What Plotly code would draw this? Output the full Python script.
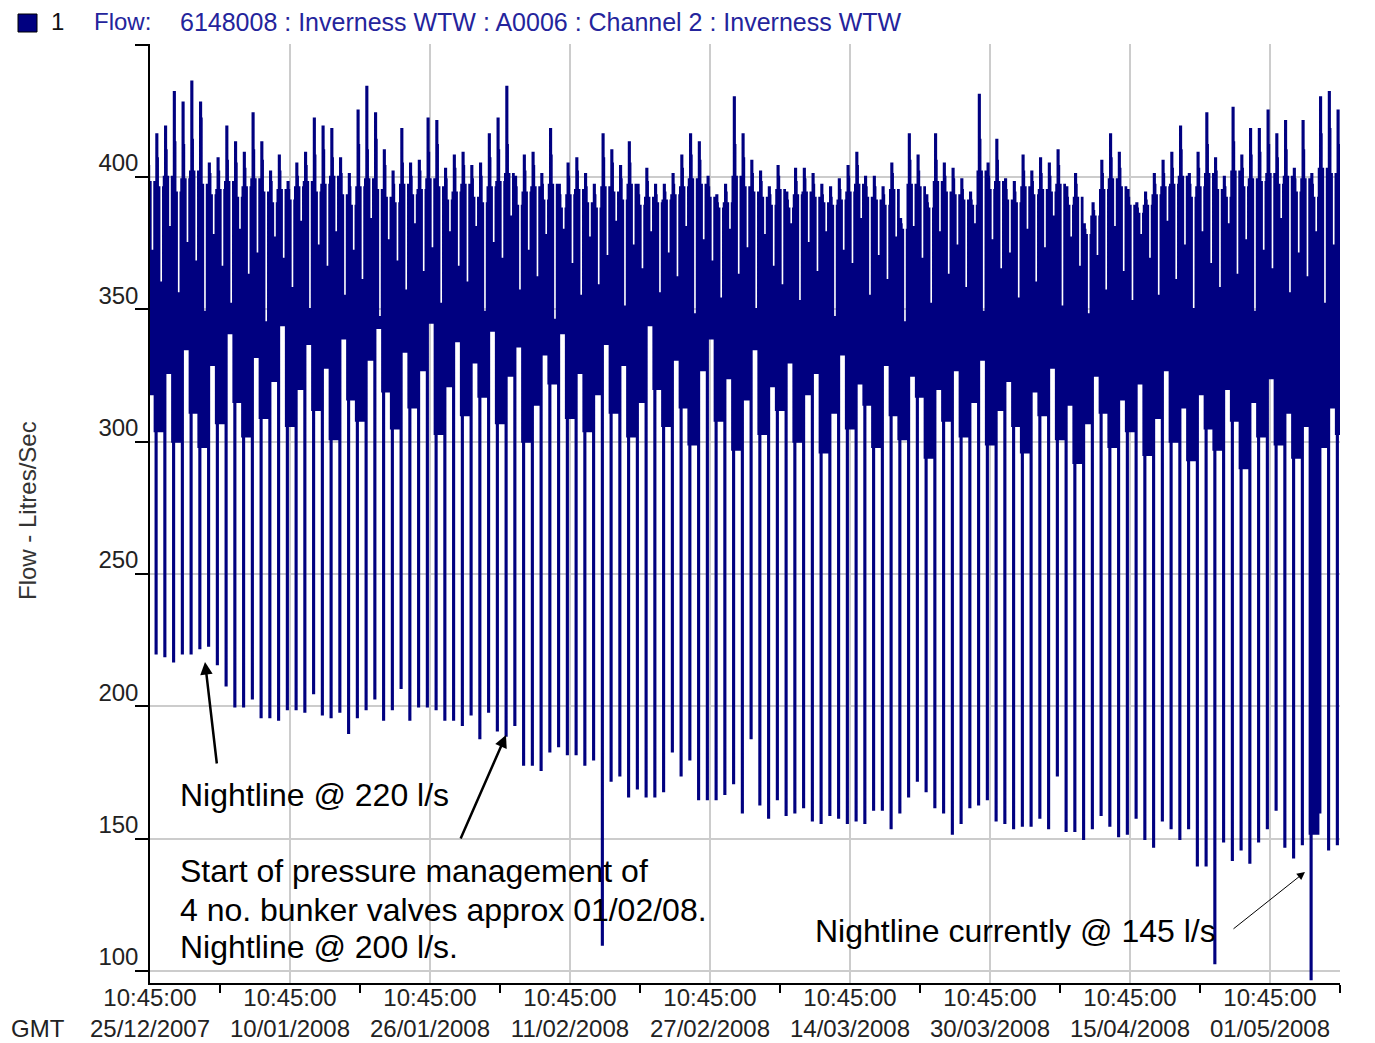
import datetime as dt
import plotly.graph_objects as go

# ---- daily flow figures (litres/sec), one entry per calendar day from 25/12/2007 ----
night_min = [
    222,
    220, 219, 217, 220, 220, 222, 223, 216, 208, 200,
    200, 203, 196, 196, 195, 199, 199, 198, 205, 197,
    196, 198, 190, 196, 199, 203, 195, 199, 207, 195,
    200, 200, 199, 195, 195, 193, 197, 188, 198, 191,
    189, 193, 178, 178, 176, 183, 185, 182, 182, 178,
    180, 110, 172, 174, 166, 169, 166, 166, 168, 183,
    174, 180, 165, 165, 165, 167, 171, 160,
    188,
    163, 158, 165, 159, 160, 162, 157, 156, 159, 158,
    156, 157, 156, 161, 161, 154, 160, 166, 172, 168,
    162, 160, 152, 156, 162, 163, 165, 157, 156, 154,
    155, 155, 158, 154, 174, 153, 153, 150, 154, 159,
    155, 151, 152, 158, 150, 147, 157, 154, 150, 154,
    140, 140, 103, 149, 142, 146, 141, 149, 154, 161,
    147, 143, 148,
    97, 160, 146, 148,
]

daily_peak = [
    409, 416, 419, 432, 428, 436, 428, 405, 407, 419,
    413, 409, 424, 413, 402, 408, 398, 405, 409, 422,
    419, 418, 407, 401, 425, 434, 424, 410, 402, 418,
    405, 406, 422, 421, 403, 408, 409, 404, 405, 416,
    422, 434, 400, 408, 409, 401, 418, 397, 405, 407,
    401, 397, 416, 410, 404, 413, 397, 403, 397, 397,
    401, 408, 416, 413, 400, 393, 397, 430, 416, 406,
    402, 396, 404, 394, 403, 403, 401, 397, 396, 399,
    404, 409, 400, 400, 396, 405, 384, 416, 408, 393,
    416, 405, 403, 399, 394, 431, 405, 414, 399, 398,
    408, 402, 407, 405, 410, 396, 401, 382, 390, 406,
    416, 409, 395, 390, 394, 401, 406, 409, 419, 401,
    409, 424, 407, 400, 426, 408, 418, 418, 425, 416,
    421, 403, 421, 401, 430, 432, 425,
]

# secondary step just after the morning peak
after_peak = [
    404, 407, 410, 413, 412, 414, 422, 401, 402, 406,
    405, 403, 410, 406, 398, 402, 395, 400, 404, 408,
    410, 407, 401, 396, 412, 410, 414, 404, 397, 405,
    400, 402, 409, 412, 399, 403, 404, 399, 400, 407,
    410, 412, 396, 402, 404, 397, 408, 393, 400, 402,
    396, 393, 407, 405, 399, 405, 393, 398, 393, 394,
    397, 403, 408, 406, 396, 390, 394, 412, 407, 401,
    398, 393, 400, 391, 398, 399, 397, 393, 392, 395,
    400, 404, 396, 396, 393, 401, 382, 406, 402, 390,
    406, 400, 399, 395, 391, 414, 400, 406, 395, 394,
    402, 398, 401, 400, 404, 392, 397, 380, 387, 401,
    407, 403, 392, 388, 391, 397, 401, 403, 410, 397,
    403, 412, 402, 396, 413, 403, 408, 409, 412, 407,
    410, 399, 410, 397, 416, 418, 412,
]

# upper level of the daytime demand band
day_high = [
    398, 396, 400, 394, 399, 402, 397, 393, 395, 398,
    392, 396, 399, 394, 390, 395, 391, 396, 398, 394,
    397, 400, 393, 389, 396, 399, 395, 392, 390, 397,
    393, 395, 399, 396, 391, 394, 397, 392, 390, 396,
    398, 401, 389, 394, 396, 391, 397, 388, 393, 395,
    390, 388, 396, 394, 391, 397, 389, 392, 390, 391,
    393, 396, 399, 397, 392, 388, 390, 400, 396, 394,
    392, 389, 395, 388, 393, 394, 392, 390, 389, 391,
    394, 397, 392, 391, 389, 395, 380, 397, 396, 388,
    398, 394, 393, 391, 389, 402, 395, 398, 391, 390,
    396, 393, 395, 394, 397, 389, 392, 378, 385, 395,
    399, 396, 389, 386, 389, 393, 396, 397, 400, 392,
    396, 401, 395, 392, 402, 396, 399, 398, 401, 397,
    400, 394, 399, 392, 403, 401, 399,
]

# evening ceiling (afternoon/evening lull)
evening_high = [
    372, 360, 381, 356, 375, 368, 349, 378, 366, 352,
    380, 363, 371, 345, 377, 369, 358, 383, 350, 374,
    366, 379, 355, 372, 361, 384, 347, 376, 368, 357,
    382, 364, 373, 352, 379, 366, 360, 381, 349, 375,
    369, 385, 357, 372, 362, 378, 346, 380, 367, 355,
    377, 359, 370, 383, 351, 374, 365, 379, 356, 371,
    362, 381, 348, 376, 368, 354, 380, 363, 373, 350,
    378, 366, 359, 382, 353, 375, 364, 379, 347, 372,
    367, 384, 355, 370, 361, 377, 345, 381, 369, 352,
    379, 363, 374, 358, 382, 349, 376, 365, 371, 354,
    380, 360, 373, 385, 351, 377, 366, 348, 370, 357,
    381, 364, 353, 378, 369, 355, 383, 361, 374, 350,
    379, 367, 358, 382, 363, 376, 349, 372, 365, 384,
    356, 371, 362, 379, 352, 374, 368,
]

# lower level of the daytime demand band
day_low = [
    318, 304, 326, 300, 335, 311, 298, 329, 307, 341,
    315, 302, 332, 309, 323, 344, 306, 320, 337, 312,
    328, 301, 339, 316, 308, 331, 343, 319, 305, 334,
    313, 327, 345, 303, 321, 338, 310, 330, 317, 342,
    307, 325, 336, 300, 314, 333, 322, 341, 309, 326,
    304, 318, 337, 311, 329, 302, 315, 344, 320, 306,
    331, 313, 299, 327, 339, 308, 324, 297, 316, 335,
    303, 321, 312, 330, 300, 318, 326, 296, 311, 333,
    305, 322, 314, 298, 329, 310, 301, 325, 317, 294,
    320, 308, 327, 302, 315, 331, 299, 312, 323, 306,
    296, 319, 310, 328, 301, 314, 292, 307, 325, 311,
    298, 316, 304, 322, 295, 309, 327, 300, 313, 293,
    318, 305, 297, 320, 308, 290, 315, 302, 324, 299,
    311, 294, 306, 152, 298, 313, 303,
]

y_tick_values = [100, 150, 200, 250, 300, 350, 400, 450]
y_tick_text = ["100", "150", "200", "250", "300", "350", "400", ""]

# ---- build the logged series: each day follows the same sequence of readings ----
series = {
    "low": day_low, "high": day_high, "min": night_min,
    "peak": daily_peak, "step": after_peak, "eve": evening_high,
}
day_sequence = [
    (0.0, "low"), (1.0, "high"), (2.5, "min"), (4.5, "peak"), (6.5, "step"),
    (8.0, "low"), (9.0, "high"), (10.0, "low"), (11.0, "high"), (12.0, "low"),
    (13.5, "eve"), (15.0, "low"), (16.5, "eve"), (18.0, "low"), (19.5, "eve"),
    (21.0, "low"), (23.0, "high"),
]

first_day = dt.datetime(2007, 12, 25)
times, flows = [], []
for d in range(len(night_min)):
    for hour, key in day_sequence:
        times.append(first_day + dt.timedelta(days=d, hours=hour))
        flows.append(series[key][d])

x_start = dt.datetime(2007, 12, 25, 10, 45)
x_end = x_start + dt.timedelta(days=136)
label_dates = [x_start + dt.timedelta(days=16 * k) for k in range(9)]
label_text = [f"10:45:00<br>{t:%d/%m/%Y}" for t in label_dates]
mid_ticks = [x_start + dt.timedelta(days=8 + 16 * k) for k in range(9)]

FONT = "Liberation Sans, Arial, sans-serif"
NAVY = "#000080"

fig = go.Figure()
fig.add_trace(go.Scatter(
    x=times, y=flows, mode="lines", line=dict(color=NAVY, width=2.4, shape="hv"),
    hoverinfo="skip", showlegend=False,
))

# plot box in page pixels, for placing the text furniture
L, R, T, B = 150, 1340, 44, 983


def px(xp):
    return (xp - L) / (R - L)


def py(yp):
    return (B - yp) / (B - T)


annotations = []


def text(xp, yp, s, size=32, color="black", anchor="left", angle=0):
    annotations.append(dict(
        x=px(xp), y=py(yp), xref="paper", yref="paper", text=s, showarrow=False,
        xanchor=anchor, yanchor="middle", textangle=angle,
        font=dict(family=FONT, size=size, color=color),
    ))


def arrow(tip, tail, width):
    annotations.append(dict(
        x=px(tip[0]), y=py(tip[1]), xref="paper", yref="paper", text="",
        showarrow=True, ax=tail[0] - tip[0], ay=tail[1] - tip[1],
        arrowhead=2, arrowsize=1.6 if width < 2 else 1.0, arrowwidth=width,
        arrowcolor="black", standoff=0,
    ))


# header line
text(57, 22, "1", size=24, color="#111111", anchor="center")
text(92, 22, "Flow:", size=24, color="#24249c")
text(178, 22, "6148008 : Inverness WTW : A0006 : Channel 2 : Inverness WTW",
     size=25, color="#24249c")
# axis captions
text(27, 511, "Flow - Litres/Sec", size=24, color="#333333", anchor="center", angle=-90)
text(38, 1028, "GMT", size=24, color="#222222", anchor="center")
# notes on the chart
text(178, 795, "Nightline @ 220 l/s")
text(178, 871, "Start of pressure management of")
text(178, 910, "4 no. bunker valves approx 01/02/08.")
text(178, 947, "Nightline @ 200 l/s.")
text(813, 931, "Nightline currently @ 145 l/s")
arrow((205, 662), (217, 765), 2.5)
arrow((506, 735), (460, 840), 2.5)
arrow((1305, 872), (1232, 930), 1)

fig.update_layout(
    width=1375, height=1043,
    margin=dict(l=L, r=1375 - R, t=T, b=1043 - B, autoexpand=False),
    paper_bgcolor="white", plot_bgcolor="white",
    font=dict(family=FONT, size=24, color="#222222"),
    annotations=annotations,
    shapes=[dict(type="rect", xref="paper", yref="paper",
                 x0=px(18), x1=px(37), y0=py(32), y1=py(14),
                 fillcolor=NAVY, line=dict(color="black", width=1))],
    xaxis=dict(
        type="date", range=[x_start, x_end], automargin=False,
        tickmode="array", tickvals=label_dates, ticktext=label_text,
        ticks="outside", ticklen=0, showgrid=True, gridcolor="#cccccc", gridwidth=1.5,
        showline=True, linecolor="black", linewidth=1.5, zeroline=False,
        tickfont=dict(family=FONT, size=24, color="#222222"),
        ticklabelstandoff=-8,
        minor=dict(tickmode="array", tickvals=mid_ticks, ticks="outside",
                   ticklen=8, tickwidth=1.5, tickcolor="black", showgrid=False),
    ),
    yaxis=dict(
        range=[95.5, 450.2], automargin=False,
        tickmode="array", tickvals=y_tick_values, ticktext=y_tick_text,
        ticks="outside", ticklen=13, tickwidth=1.5, tickcolor="black",
        showgrid=True, gridcolor="#cccccc", gridwidth=1.5,
        showline=True, linecolor="black", linewidth=1.5, zeroline=False,
        tickfont=dict(family=FONT, size=24, color="#222222"),
        ticklabelshift=-14, ticklabelstandoff=-8,
    ),
)

fig.write_html("out.html")
